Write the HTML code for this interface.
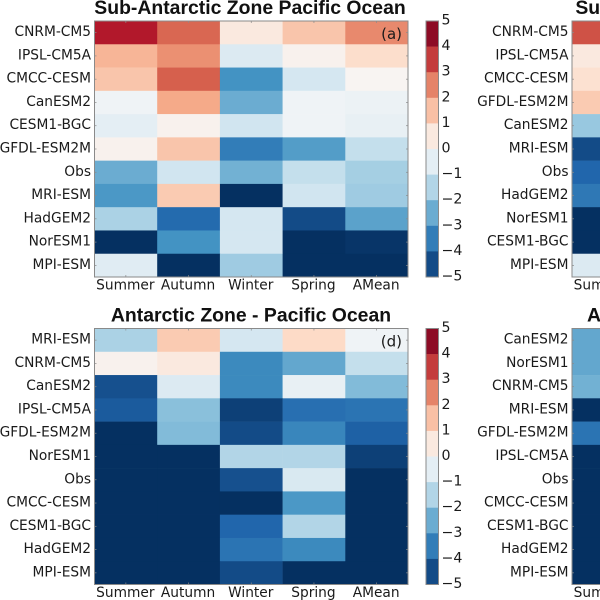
<!DOCTYPE html>
<html>
<head>
<meta charset="utf-8">
<title>Zone heatmaps</title>
<style>
html,body{margin:0;padding:0;background:#fff;width:600px;height:600px;overflow:hidden}
svg{display:block}
.title{font:bold 19.4px "Liberation Sans",sans-serif;fill:#111;text-anchor:middle}
.ylab{font:13.75px "DejaVu Sans",sans-serif;fill:#1a1a1a;text-anchor:end;dominant-baseline:central}
.xlab{font:13.75px "DejaVu Sans",sans-serif;fill:#1a1a1a;text-anchor:middle;dominant-baseline:central}
.cblab{font:14.2px "DejaVu Sans",sans-serif;fill:#1a1a1a;dominant-baseline:central}
.tag{font:15px "DejaVu Sans",sans-serif;fill:#1a1a1a;text-anchor:end;dominant-baseline:central}
</style>
</head>
<body>
<svg id="chart" width="600" height="600" viewBox="0 0 600 600" xmlns="http://www.w3.org/2000/svg"></svg>
<script>
const seasons = ['Summer', 'Autumn', 'Winter', 'Spring', 'AMean'];
const colorbarTicks = [5, 4, 3, 2, 1, 0, -1, -2, -3, -4, -5];

const modelsA = ['CNRM-CM5', 'IPSL-CM5A', 'CMCC-CESM', 'CanESM2', 'CESM1-BGC', 'GFDL-ESM2M', 'Obs', 'MRI-ESM', 'HadGEM2', 'NorESM1', 'MPI-ESM'];
const valuesA = [
  [4.0, 2.9, 0.5, 1.4, 2.4],
  [1.7, 2.3, -0.7, 0.2, 0.9],
  [1.4, 3.0, -3.0, -0.9, 0.1],
  [-0.2, 1.9, -2.5, -0.2, -0.3],
  [-0.5, 0.2, -1.0, -0.2, -0.4],
  [0.2, 1.4, -3.5, -2.8, -1.2],
  [-2.5, -1.0, -2.4, -1.2, -1.7],
  [-2.9, 1.3, -5.0, -1.0, -1.8],
  [-1.6, -3.9, -0.9, -4.5, -2.7],
  [-5.0, -3.0, -0.9, -5.0, -4.9],
  [-0.6, -5.0, -1.8, -5.0, -5.0]
];

const modelsB = ['CNRM-CM5', 'IPSL-CM5A', 'CMCC-CESM', 'GFDL-ESM2M', 'CanESM2', 'MRI-ESM', 'Obs', 'HadGEM2', 'NorESM1', 'CESM1-BGC', 'MPI-ESM'];
const valuesB = [[3.2], [0.5], [0.8], [1.3], [-1.9], [-4.5], [-4.0], [-3.6], [-5.0], [-5.0], [-0.7]];

const modelsD = ['MRI-ESM', 'CNRM-CM5', 'CanESM2', 'IPSL-CM5A', 'GFDL-ESM2M', 'NorESM1', 'Obs', 'CMCC-CESM', 'CESM1-BGC', 'HadGEM2', 'MPI-ESM'];
const valuesD = [
  [-1.6, 1.3, -0.9, 1.0, -0.2],
  [0.2, 0.5, -3.2, -2.6, -1.2],
  [-4.4, -0.7, -3.2, -0.4, -2.2],
  [-4.2, -2.1, -4.7, -3.8, -3.7],
  [-5.0, -2.2, -4.5, -3.3, -4.1],
  [-5.0, -5.0, -1.5, -1.5, -4.7],
  [-5.0, -5.0, -4.4, -0.8, -5.0],
  [-5.0, -5.0, -5.0, -2.9, -5.0],
  [-5.0, -5.0, -4.0, -1.5, -5.0],
  [-5.0, -5.0, -3.7, -3.2, -5.0],
  [-5.0, -5.0, -4.5, -5.0, -5.0]
];

const modelsE = ['CanESM2', 'NorESM1', 'CNRM-CM5', 'MRI-ESM', 'GFDL-ESM2M', 'IPSL-CM5A', 'Obs', 'CMCC-CESM', 'CESM1-BGC', 'HadGEM2', 'MPI-ESM'];
const valuesE = [[-2.6], [-2.6], [-2.4], [-5.0], [-3.7], [-5.0], [-5.0], [-5.0], [-5.0], [-5.0], [-5.0]];

const rdbuStops = ['#053061', '#2166ac', '#4393c3', '#92c5de', '#d1e5f0', '#f7f7f7', '#fddbc7', '#f4a582', '#d6604d', '#b2182b', '#67001f'];

const svg = document.getElementById('chart');
const NS = 'http://www.w3.org/2000/svg';
const COL_W = 62.7;
const SPINE = '#8a8a8a';

function hexRgb(h) {
  return [1, 3, 5].map(i => parseInt(h.substr(i, 2), 16));
}
function colorFor(v) {
  const t = Math.max(0, Math.min(10, v + 5));
  const i = Math.min(9, Math.floor(t));
  const f = t - i;
  const a = hexRgb(rdbuStops[i]);
  const b = hexRgb(rdbuStops[i + 1]);
  const c = a.map((x, k) => Math.round(x + (b[k] - x) * f));
  return 'rgb(' + c.join(',') + ')';
}
function make(tag, attrs, text) {
  const el = document.createElementNS(NS, tag);
  Object.keys(attrs).forEach(k => el.setAttribute(k, attrs[k]));
  if (text !== undefined) el.textContent = text;
  svg.appendChild(el);
  return el;
}

function drawPanel(key, left, top, bottom, title, titleX, models, values, tag) {
  const rowH = (bottom - top) / models.length;
  const right = left + COL_W * seasons.length;
  const xScale = c => left + c * COL_W;
  const yScale = r => top + r * rowH;

  const t = make('text', {class: 'title', x: titleX, y: top - 7}, title);
  
  

  values.forEach((row, r) => {
    row.forEach((v, c) => {
      const cell = make('rect', {x: xScale(c), y: yScale(r), width: COL_W + 0.3, height: rowH + 0.3, fill: colorFor(v)});
      
      
    });
  });

  const frame = make('rect', {x: left, y: top, width: COL_W * seasons.length, height: bottom - top, fill: 'none', stroke: SPINE, 'stroke-width': 1});
  
  

  models.forEach((m, r) => {
    const y = yScale(r) + rowH / 2;
    const lab = make('text', {class: 'ylab', x: left - 3.5, y: y - 0.5}, m);
    
    
    const tickL = make('line', {x1: left, x2: left + 2, y1: y, y2: y, stroke: SPINE, 'stroke-width': 0.7});
    
    
    const tickR = make('line', {x1: right - 2, x2: right, y1: y, y2: y, stroke: SPINE, 'stroke-width': 0.7});
    
    
  });
  seasons.forEach((s, c) => {
    const x = xScale(c) + COL_W / 2;
    const lab = make('text', {class: 'xlab', x: x - 0.5, y: bottom + 8.5}, s);
    
    
    const tickT = make('line', {x1: x, x2: x, y1: top, y2: top + 2, stroke: SPINE, 'stroke-width': 0.7});
    
    
    const tickB = make('line', {x1: x, x2: x, y1: bottom - 2, y2: bottom, stroke: SPINE, 'stroke-width': 0.7});
    
    
  });
  if (tag) {
    const tg = make('text', {class: 'tag', x: left + COL_W * 5 - 6, y: top + 13}, tag);
    
    
  }
}

function drawColorbar(key, left, top, bottom) {
  const w = 12.5;
  const stepH = (bottom - top) / (colorbarTicks.length - 1);
  const yScale = v => top + (colorbarTicks[0] - v) * stepH;
  colorbarTicks.slice(0, -1).forEach(v => {
    const seg = make('rect', {x: left, y: yScale(v), width: w, height: stepH + 0.3, fill: colorFor(v - 0.5)});
    
    
  });
  const frame = make('rect', {x: left, y: top, width: w, height: bottom - top, fill: 'none', stroke: SPINE, 'stroke-width': 1});
  
  
  colorbarTicks.forEach(v => {
    const lab = make('text', {class: 'cblab', x: left + 15.5, y: yScale(v) - 0.5}, v < 0 ? '\u2212' + Math.abs(v) : String(v));
    
    
  });
}

drawPanel('panel-a', 94.5, 21, 277, 'Sub-Antarctic Zone Pacific Ocean', 250, modelsA, valuesA, '(a)');
drawColorbar('panel-a', 426, 21, 277);
drawPanel('panel-b', 572, 21, 277, 'Sub-Antarctic Zone Atlantic Ocean', 735, modelsB, valuesB, '');
drawPanel('panel-d', 94.5, 328.5, 584.5, 'Antarctic Zone - Pacific Ocean', 251, modelsD, valuesD, '(d)');
drawColorbar('panel-d', 426, 328.5, 584.5);
drawPanel('panel-e', 572, 328.5, 584.5, 'Antarctic Zone - Atlantic Ocean', 731, modelsE, valuesE, '');
</script>
</body>
</html>
